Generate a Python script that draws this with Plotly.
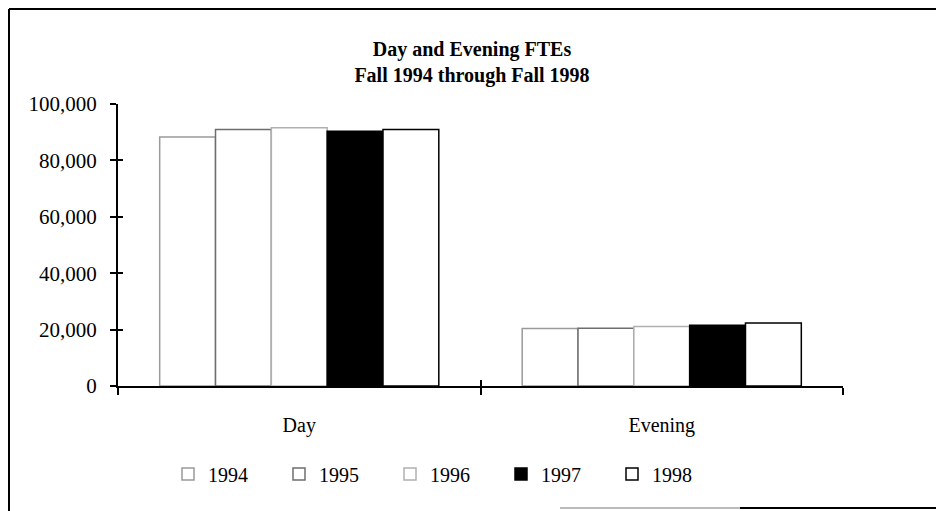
import plotly.graph_objects as go

# values
categories = ["Day", "Evening"]
years = ["1994", "1995", "1996", "1997", "1998"]
fte_1994 = [88300, 20400]
fte_1995 = [91000, 20500]
fte_1996 = [91600, 21100]
fte_1997 = [90300, 21500]
fte_1998 = [91000, 22300]
y_ticks = [0, 20000, 40000, 60000, 80000, 100000]

series = [fte_1994, fte_1995, fte_1996, fte_1997, fte_1998]
fills = ["white", "white", "white", "black", "white"]
edges = ["#9a9a9a", "#6e6e6e", "#b0b0b0", "black", "black"]

FONT = "Liberation Serif, Times New Roman, serif"

# the html body has an 8px margin, so the figure is drawn 8px in from the page edge
W, H = 936, 503
L, R, T, B = 110, 101, 96, 125
PW, PH = W - L - R, H - T - B


def px(x):
    return (x - L) / PW


def py(y):
    return (H - B - y) / PH


fig = go.Figure()
for name, vals, fc, lc in zip(years, series, fills, edges):
    fig.add_trace(go.Bar(
        x=categories, y=vals, name=name,
        marker=dict(color=fc, line=dict(color=lc, width=1.5)),
    ))

# invisible trace so the overlay axes (inner half of the crossing ticks) get drawn
fig.add_trace(go.Scatter(x=[0], y=[0], xaxis="x2", yaxis="y2",
                         mode="markers", marker=dict(opacity=0),
                         showlegend=False, hoverinfo="skip"))

fig.update_layout(
    width=W, height=H,
    margin=dict(l=L, r=R, t=T, b=B, autoexpand=False),
    paper_bgcolor="white", plot_bgcolor="white",
    font=dict(family=FONT, size=20, color="black"),
    barmode="group", bargap=0.23, bargroupgap=0,
    title=dict(
        text="<b>Day and Evening FTEs</b><br><b>Fall 1994 through Fall 1998</b>",
        x=464 / W, xanchor="center", y=1 - 48 / H, yanchor="middle",
        font=dict(family=FONT, size=20, color="black"),
    ),
    xaxis=dict(
        showline=True, linecolor="black", linewidth=2,
        ticks="outside", ticklen=7, tickwidth=2, tickcolor="black",
        tickson="boundaries", showgrid=False, ticklabelstandoff=20,
        tickfont=dict(family=FONT, size=20),
    ),
    yaxis=dict(
        range=[0, 100000], tickvals=y_ticks, tickformat=",",
        showline=True, linecolor="black", linewidth=2,
        ticks="outside", ticklen=6, tickwidth=2, tickcolor="black",
        showgrid=False, zeroline=False, ticklabelstandoff=9,
        tickfont=dict(family=FONT, size=21),
    ),
    xaxis2=dict(
        overlaying="x", range=[-0.5, 1.5], tickvals=[-0.5, 0.5, 1.5],
        ticks="inside", ticklen=6, tickwidth=2, tickcolor="black",
        showticklabels=False, showgrid=False, zeroline=False, showline=False,
    ),
    yaxis2=dict(
        overlaying="y", side="left", range=[0, 100000], tickvals=y_ticks,
        ticks="inside", ticklen=5, tickwidth=2, tickcolor="black",
        showticklabels=False, showgrid=False, zeroline=False, showline=False,
    ),
    legend=dict(
        orientation="h", x=px(160), xanchor="left",
        y=py(466), yanchor="middle",
        entrywidth=66, traceorder="normal", itemwidth=30,
        font=dict(family=FONT, size=20, color="black"), itemclick=False,
    ),
    showlegend=True,
)

# scanned page frame
fig.add_shape(type="line", xref="paper", yref="paper",
              x0=px(1), x1=px(1), y0=py(H), y1=py(1),
              line=dict(color="black", width=2))
fig.add_shape(type="line", xref="paper", yref="paper",
              x0=px(1), x1=px(W), y0=py(1), y1=py(1),
              line=dict(color="black", width=2))
fig.add_shape(type="line", xref="paper", yref="paper",
              x0=px(552), x1=px(732), y0=py(500), y1=py(500),
              line=dict(color="#bbbbbb", width=2))
fig.add_shape(type="line", xref="paper", yref="paper",
              x0=px(732), x1=px(W), y0=py(500), y1=py(500),
              line=dict(color="black", width=2))

fig.write_html("out.html")
